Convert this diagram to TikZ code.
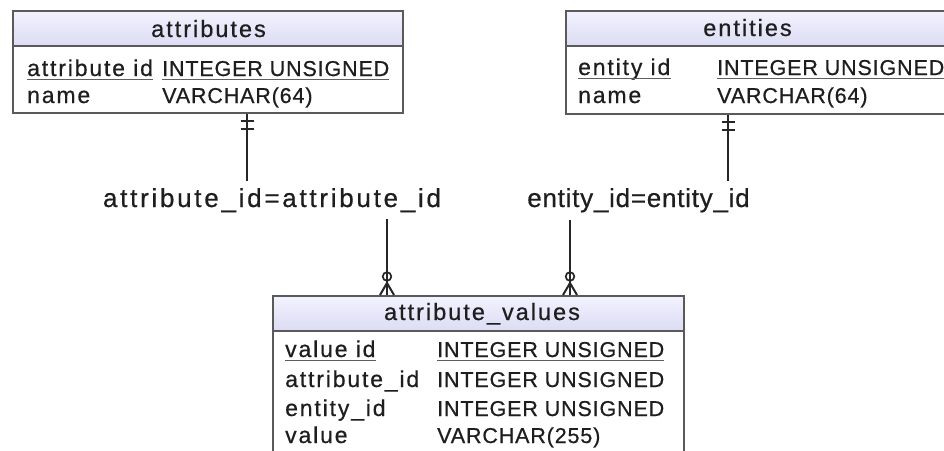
\documentclass[tikz,border=0pt]{standalone}
\usepackage{fontspec}
\setmainfont{Liberation Sans}
\newfontfamily\hdrfont[LetterSpace=8.5,FakeBold=0.6]{Liberation Sans}
\newfontfamily\bodylcfont[LetterSpace=8,FakeBold=0.6]{Liberation Sans}
\newfontfamily\bodyucfont[LetterSpace=4,FakeBold=0.6]{Liberation Sans}
\newfontfamily\lblafont[LetterSpace=10.5,FakeBold=0.6]{Liberation Sans}
\newfontfamily\lblbfont[LetterSpace=2.9,FakeBold=0.6]{Liberation Sans}
\definecolor{boxgray}{HTML}{5A5A5A}
\definecolor{hdtop}{HTML}{F2F2FF}
\definecolor{hdbot}{HTML}{DCDCF4}
\definecolor{txtcol}{HTML}{1E1E1E}
\definecolor{ulcol}{HTML}{5E5E5E}
\definecolor{linecol}{HTML}{262626}
\tikzset{
  tbox/.style={draw=boxgray, line width=1.8pt, fill=white, anchor=north west, inner sep=0pt},
  thead/.style={tbox, top color=hdtop, bottom color=hdbot},
  txt/.style={inner sep=0pt, text=txtcol},
  hdtxt/.style={txt, anchor=base, font={\hdrfont\fontsize{23.5pt}{26pt}\selectfont}},
  lc/.style={txt, anchor=base west, font={\bodylcfont\fontsize{23pt}{26pt}\selectfont}},
  uc/.style={txt, anchor=base west, font={\bodyucfont\fontsize{21.5pt}{24pt}\selectfont}},
  ul/.style={draw=ulcol, line width=1.8pt},
  conn/.style={draw=linecol, line width=2pt},
  lbla/.style={txt, anchor=base, inner sep=7pt, font={\lblafont\fontsize{26pt}{29pt}\selectfont}},
  lblb/.style={txt, anchor=base, inner sep=7pt, font={\lblbfont\fontsize{26pt}{29pt}\selectfont}}
}
\newcommand{\ulnode}[1]{\draw[ul] ([yshift=-3.5pt]#1.base west) -- ([yshift=-3.5pt]#1.base east);}
\begin{document}
\begin{tikzpicture}[x=1pt,y=-1pt]
\useasboundingbox (0,0) rectangle (944,450);
\clip (0,0) rectangle (944,450);

% ---------- attributes ----------
\node[tbox, minimum width=390pt, minimum height=67pt] (attrB) at (12,45) {};
\node[thead, minimum width=390pt, minimum height=35pt] (attrH) at (12,10) {};
\node[hdtxt] (attrT) at (208.5,37) {attributes};
\node[lc] (attrK) at (27,76) {attribute id};
\node[uc] (attrKT) at (162,76) {INTEGER UNSIGNED};
\node[lc] (attrN) at (27,103) {name};
\node[uc] (attrNT) at (162,103) {VARCHAR(64)};
\ulnode{attrK}
\ulnode{attrKT}

% ---------- entities ----------
\node[tbox, minimum width=390pt, minimum height=68pt] (entB) at (565,45) {};
\node[thead, minimum width=390pt, minimum height=35pt] (entH) at (565,10) {};
\node[hdtxt] (entT) at (747.5,36) {entities};
\node[lc] (entK) at (578,75) {entity id};
\node[uc] (entKT) at (717,75) {INTEGER UNSIGNED};
\node[lc] (entN) at (578,103) {name};
\node[uc] (entNT) at (717,103) {VARCHAR(64)};
\ulnode{entK}
\ulnode{entKT}

% ---------- attribute_values ----------
\node[tbox, minimum width=411pt, minimum height=200pt] (avB) at (272,330) {};
\node[thead, minimum width=411pt, minimum height=35pt] (avH) at (272,295) {};
\node[hdtxt] (avT) at (482,320) {attribute\_values};
\node[lc] (avK) at (285,357) {value id};
\node[uc] (avKT) at (437,357) {INTEGER UNSIGNED};
\node[lc] (avA) at (285,387) {attribute\_id};
\node[uc] (avAT) at (437,387) {INTEGER UNSIGNED};
\node[lc] (avE) at (285,416) {entity\_id};
\node[uc] (avET) at (437,416) {INTEGER UNSIGNED};
\node[lc] (avV) at (285,443) {value};
\node[uc] (avVT) at (437,443) {VARCHAR(255)};
\ulnode{avK}
\ulnode{avKT}

% ---------- labels ----------
\node[lbla] (lblA) at (272,207) {attribute\_id=attribute\_id};
\node[lblb] (lblB) at (638.5,207) {entity\_id=entity\_id};

% ---------- connectors ----------
\coordinate (xa) at (247,0);
\coordinate (xb) at (387,0);
\coordinate (xc) at (728,0);
\coordinate (xd) at (570,0);

\coordinate (ca) at (attrB.south -| xa);
\coordinate (cc) at (entB.south -| xc);
\coordinate (fb) at (avH.north -| xb);
\coordinate (fd) at (avH.north -| xd);

\draw[conn] (ca) -- (lblA.north -| xa);
\draw[conn] (lblA.south -| xb) -- (fb);
\draw[conn] (cc) -- (lblB.north -| xc);
\draw[conn] (lblB.south -| xd) -- (fd);

% one-and-only-one bars
\foreach \c in {ca,cc}{
  \draw[conn] ([yshift=-7.5pt]\c) ++(-6.5,0) -- ++(13,0);
  \draw[conn] ([yshift=-15.5pt]\c) ++(-6.5,0) -- ++(13,0);
}
% zero-or-many crow's feet
\foreach \c in {fb,fd}{
  \draw[conn] (\c) +(-7,0) -- +(0,-12) -- +(7,0);
  \draw[conn, line width=1.7pt] (\c) +(0,-18.5) circle[radius=4.3pt];
}
\end{tikzpicture}
\end{document}
